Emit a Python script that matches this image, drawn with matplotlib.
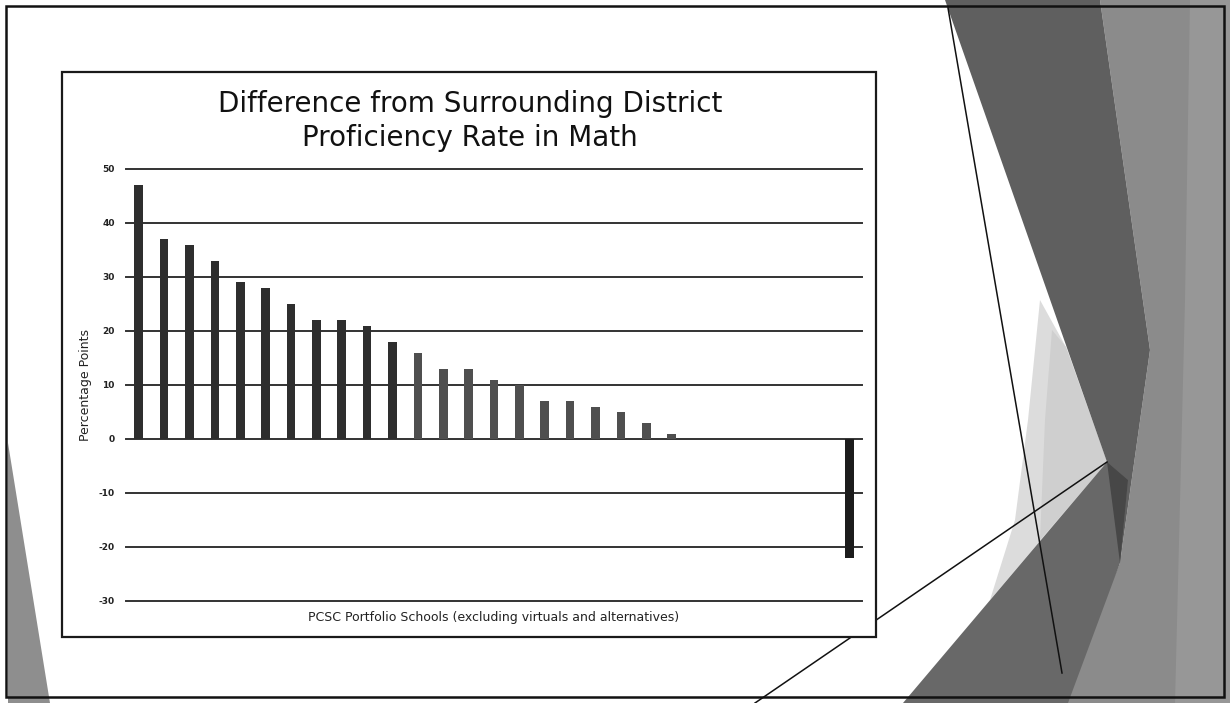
import matplotlib
matplotlib.use("Agg")
import matplotlib.pyplot as plt
from matplotlib.patches import Polygon, Rectangle
from matplotlib.lines import Line2D

# ---- data ----
schools = list(range(1, 30))
diff_points = [47, 37, 36, 33, 29, 28, 25, 22, 22, 21, 18, 16, 13, 13, 11,
               10, 7, 7, 6, 5, 3, 1, 0, 0, 0, 0, 0, 0, -22]
y_ticks = [-30, -20, -10, 0, 10, 20, 30, 40, 50]
title_text = "Difference from Surrounding District\nProficiency Rate in Math"
y_label = "Percentage Points"
x_label = "PCSC Portfolio Schools (excluding virtuals and alternatives)"

# bar shading (scanned print: middle bars come out lighter)
bar_colors = (["#2e2e2e"] * 11 + ["#4f4f4f"] * 17 + ["#1c1c1c"])

W, H = 1230, 703
fig = plt.figure(figsize=(W / 100, H / 100), dpi=100)
fig.patch.set_facecolor("white")

# ---- slide background (pixel coordinates) ----
bg = fig.add_axes([0, 0, 1, 1])
bg.set_xlim(0, W)
bg.set_ylim(H, 0)
bg.axis("off")

def poly(pts, color, z, alpha=1.0):
    bg.add_patch(Polygon(pts, closed=True, facecolor=color, edgecolor="none",
                         zorder=z, alpha=alpha))

# right-hand grey panels
poly([(1100, 0), (W, 0), (W, H), (1060, H), (1120, 563), (1150, 350)], "#8b8b8b", 1)
poly([(1190, 0), (W, 0), (W, H), (1175, H), (1185, 300)], "#979797", 1.5)
poly([(1040, 300), (1066, 347), (1107, 462), (990, 600), (1015, 520), (1028, 420)],
     "#dcdcdc", 2)
poly([(1052, 330), (1066, 347), (1107, 462), (1040, 540), (1045, 420)],
     "#cfcfcf", 2.2)
poly([(945, 0), (1100, 0), (1150, 350), (1120, 563), (1107, 462)], "#5f5f5f", 3)
poly([(1107, 462), (903, H), (1068, H), (1120, 563), (1128, 480)], "#686868", 3)
poly([(1107, 462), (1128, 480), (1120, 563)], "#474747", 3.5)
# bottom-left sliver
poly([(8, 443), (8, H), (50, H)], "#8e8e8e", 3)

# thin accent lines
bg.add_line(Line2D([948, 1062], [8, 673], color="#111111", lw=1.1, zorder=4))
bg.add_line(Line2D([755, 1107], [703, 462], color="#111111", lw=1.1, zorder=4))

# chart frame and slide border
bg.add_patch(Rectangle((62, 72), 876 - 62, 637 - 72, facecolor="white",
                       edgecolor="#1a1a1a", lw=1.6, zorder=5))
bg.add_patch(Rectangle((6, 6), W - 12, H - 12, facecolor="none",
                       edgecolor="#111111", lw=1.8, zorder=6))

# ---- chart ----
ax = fig.add_axes([126 / W, 1 - 601 / H, (862 - 126) / W, 432 / H])
ax.patch.set_alpha(0)
ax.set_zorder(10)

for yv in y_ticks:
    ax.axhline(yv, color="#333333", lw=1.4, zorder=1, clip_on=False)

ax.bar(range(len(diff_points)), diff_points, width=0.34, color=bar_colors,
       zorder=2)

ax.set_xlim(-0.5, len(diff_points) - 0.5)
ax.set_ylim(-30, 50)
ax.set_yticks(y_ticks)
ax.set_yticklabels([str(v) for v in y_ticks], fontsize=6.5, color="#222222",
                   fontweight="bold")
ax.tick_params(axis="y", length=0, pad=8)
ax.set_xticks([])
for s in ax.spines.values():
    s.set_visible(False)

ax.set_ylabel(y_label, fontsize=9, color="#222222", labelpad=5)
ax.set_xlabel(x_label, fontsize=9, color="#222222", labelpad=7)

fig.text(470 / W, 1 - 121 / H, title_text, ha="center", va="center",
         fontsize=20, color="#111111", linespacing=1.25)

fig.savefig("out.png", dpi=100)
